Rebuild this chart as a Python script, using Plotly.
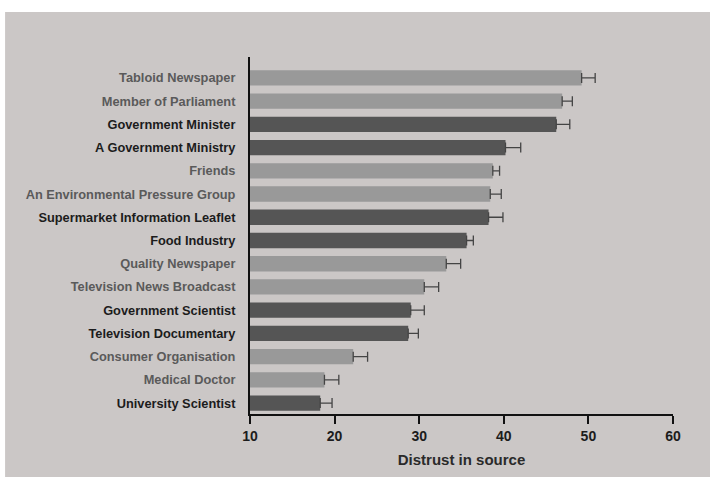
import plotly.graph_objects as go

categories = [
    "Tabloid Newspaper", "Member of Parliament", "Government Minister",
    "A Government Ministry", "Friends", "An Environmental Pressure Group",
    "Supermarket Information Leaflet", "Food Industry", "Quality Newspaper",
    "Television News Broadcast", "Government Scientist", "Television Documentary",
    "Consumer Organisation", "Medical Doctor", "University Scientist",
]
values = [49.2, 46.9, 46.2, 40.2, 38.7, 38.4, 38.2, 35.6, 33.2, 30.6, 29.0, 28.7, 22.2, 18.8, 18.3]
errors = [1.6, 1.2, 1.6, 1.8, 0.8, 1.3, 1.7, 0.8, 1.7, 1.7, 1.6, 1.2, 1.7, 1.7, 1.4]
dark = [False, False, True, True, False, False, True, True, False, False, True, True, False, False, True]
x_ticks = [10, 20, 30, 40, 50, 60]

base = 10
bar_colors = ["#555555" if d else "#999999" for d in dark]
tick_text = [
    f"<span style='color:{'#1c1c1c' if d else '#5a5a5a'}'><b>{c}</b></span>"
    for c, d in zip(categories, dark)
]

fig = go.Figure()
fig.add_trace(go.Bar(
    y=categories,
    x=[v - base for v in values],
    base=base,
    orientation="h",
    width=0.66,
    marker=dict(color=bar_colors, line=dict(width=0)),
    error_x=dict(type="data", array=errors, arrayminus=[0] * len(errors),
                 symmetric=False, color="#444444", thickness=1.3, width=5),
))

fig.update_layout(
    width=710, height=477,
    margin=dict(l=250, r=37, t=57, b=63),
    paper_bgcolor="white",
    plot_bgcolor="rgba(0,0,0,0)",
    showlegend=False,
    font=dict(family="Liberation Sans, Arial, sans-serif", color="#1c1c1c"),
    shapes=[dict(type="rect", xref="paper", yref="paper",
                 x0=-0.579, x1=1.09, y0=-0.18, y1=1.126,
                 fillcolor="#cbc7c6", line=dict(width=0), layer="below")],
    xaxis=dict(
        range=[10, 60], tickvals=x_ticks, ticktext=[f"<b>{t}</b>" for t in x_ticks],
        showgrid=False, zeroline=False, showline=True, linecolor="#111111", linewidth=2,
        ticks="outside", ticklen=8, tickwidth=2, tickcolor="#111111",
        tickfont=dict(size=14, color="#1c1c1c"),
        title=dict(text="<b>Distrust in source</b>", font=dict(size=15, color="#2a2a2a"), standoff=12),
    ),
    yaxis=dict(
        categoryorder="array", categoryarray=categories,
        range=[14.47, -0.9],
        tickvals=categories, ticktext=tick_text,
        showgrid=False, zeroline=False, showline=True, linecolor="#111111", linewidth=2,
        ticks="", ticklabelstandoff=10,
        tickfont=dict(size=12.8),
    ),
)

fig.write_html("out.html")
